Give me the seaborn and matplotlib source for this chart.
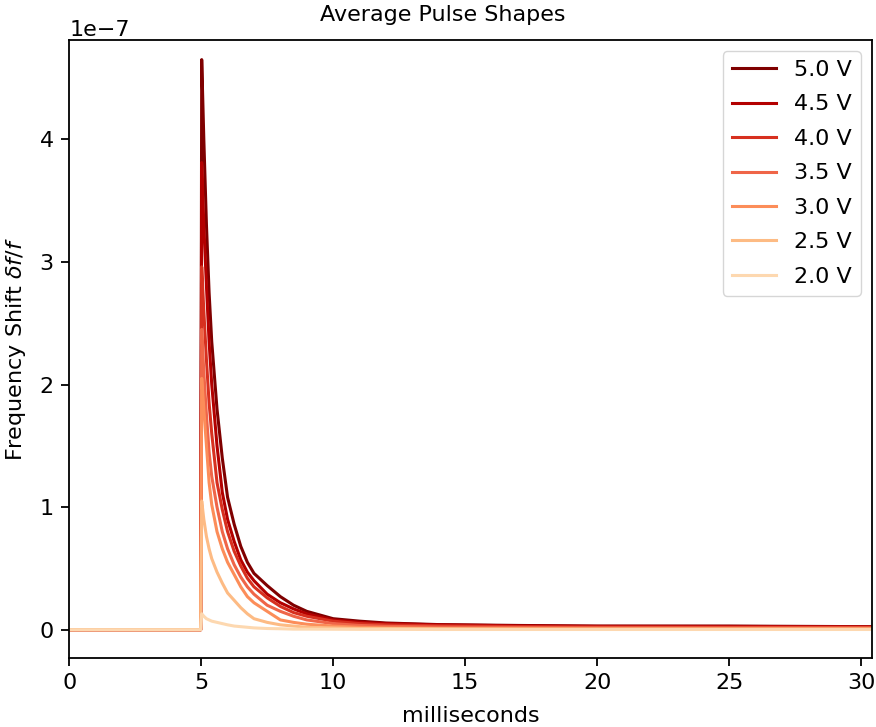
import matplotlib
matplotlib.use("Agg")
import matplotlib.pyplot as plt
import pandas as pd
import seaborn as sns

plt.rcParams["font.size"] = 16
plt.rcParams["axes.linewidth"] = 1.3
for ax_name in ("xtick", "ytick"):
    plt.rcParams[ax_name + ".major.size"] = 5.6
    plt.rcParams[ax_name + ".major.width"] = 1.3
    plt.rcParams[ax_name + ".major.pad"] = 5.6

# time grid in milliseconds
t_ms = [0, 2.5, 4.98, 5.02, 5.1, 5.2, 5.3, 5.4, 5.6, 5.8, 6.0, 6.25, 6.5, 6.75,
        7.0, 7.5, 8.0, 8.5, 9.0, 10, 11, 12, 14, 17, 20, 25, 30.4]

# average pulse shapes, in units of 1e-7
v50 = [0.0, 0.0, 0.0, 4.65, 4.00, 3.30, 2.75, 2.35, 1.80, 1.40, 1.08, 0.86, 0.68,
       0.55, 0.46, 0.36, 0.27, 0.20, 0.15, 0.09, 0.07, 0.055, 0.042, 0.035, 0.03,
       0.03, 0.025]
v45 = [0.0, 0.0, 0.0, 3.81, 3.30, 2.80, 2.35, 2.00, 1.50, 1.12, 0.90, 0.72, 0.57,
       0.47, 0.40, 0.29, 0.22, 0.17, 0.13, 0.08, 0.06, 0.05, 0.04, 0.032, 0.028,
       0.027, 0.024]
v40 = [0.0, 0.0, 0.0, 2.96, 2.60, 2.20, 1.85, 1.60, 1.20, 0.98, 0.80, 0.64, 0.52,
       0.42, 0.35, 0.26, 0.19, 0.14, 0.11, 0.07, 0.05, 0.04, 0.032, 0.026, 0.022,
       0.02, 0.02]
v35 = [0.0, 0.0, 0.0, 2.45, 2.10, 1.75, 1.45, 1.25, 1.00, 0.80, 0.66, 0.53, 0.43,
       0.35, 0.29, 0.20, 0.15, 0.11, 0.08, 0.05, 0.035, 0.028, 0.022, 0.018, 0.016,
       0.015, 0.015]
v30 = [0.0, 0.0, 0.0, 2.05, 1.80, 1.50, 1.20, 1.02, 0.80, 0.66, 0.55, 0.45, 0.35,
       0.27, 0.22, 0.15, 0.08, 0.06, 0.045, 0.03, 0.02, 0.015, 0.01, 0.01, 0.008,
       0.008, 0.008]
v25 = [0.0, 0.0, 0.0, 1.05, 0.90, 0.76, 0.66, 0.58, 0.47, 0.38, 0.30, 0.24, 0.18,
       0.13, 0.09, 0.06, 0.04, 0.03, 0.02, 0.015, 0.01, 0.01, 0.008, 0.005, 0.005,
       0.005, 0.005]
v20 = [0.0, 0.0, 0.0, 0.13, 0.11, 0.09, 0.08, 0.07, 0.06, 0.05, 0.04, 0.03, 0.025,
       0.02, 0.015, 0.01, 0.008, 0.005, 0.005, 0.004, 0.003, 0.003, 0.002, 0.002,
       0.002, 0.002, 0.002]

labels = ["5.0 V", "4.5 V", "4.0 V", "3.5 V", "3.0 V", "2.5 V", "2.0 V"]
colors = ["#7f0000", "#b30000", "#d7301f", "#ef6548", "#fc8d59", "#fdbb84", "#fdd8b0"]

series = [v50, v45, v40, v35, v30, v25, v20]
frames = []
for lab, vals in zip(labels, series):
    frames.append(pd.DataFrame({"ms": t_ms,
                                "shift": [v * 1e-7 for v in vals],
                                "voltage": lab}))
df = pd.concat(frames, ignore_index=True)

fig, ax = plt.subplots(figsize=(8.76, 7.27), dpi=100)
fig.subplots_adjust(left=0.079, right=0.995, top=0.945, bottom=0.095)

sns.lineplot(data=df, x="ms", y="shift", hue="voltage", hue_order=labels,
             palette=colors, estimator=None, sort=False, linewidth=2.2, ax=ax)

ax.set_xlim(0, 30.4)
ax.set_ylim(-0.23e-7, 4.81e-7)
fig.text(0.505, 0.979, "Average Pulse Shapes", ha="center", va="center", fontsize=16)
ax.set_xlabel("milliseconds", labelpad=9)
ax.set_ylabel(r"Frequency Shift $\delta f/f$", labelpad=8)
sns.move_legend(ax, "upper right", title=None, labelspacing=0.65)

fig.savefig("out.png", dpi=100)
